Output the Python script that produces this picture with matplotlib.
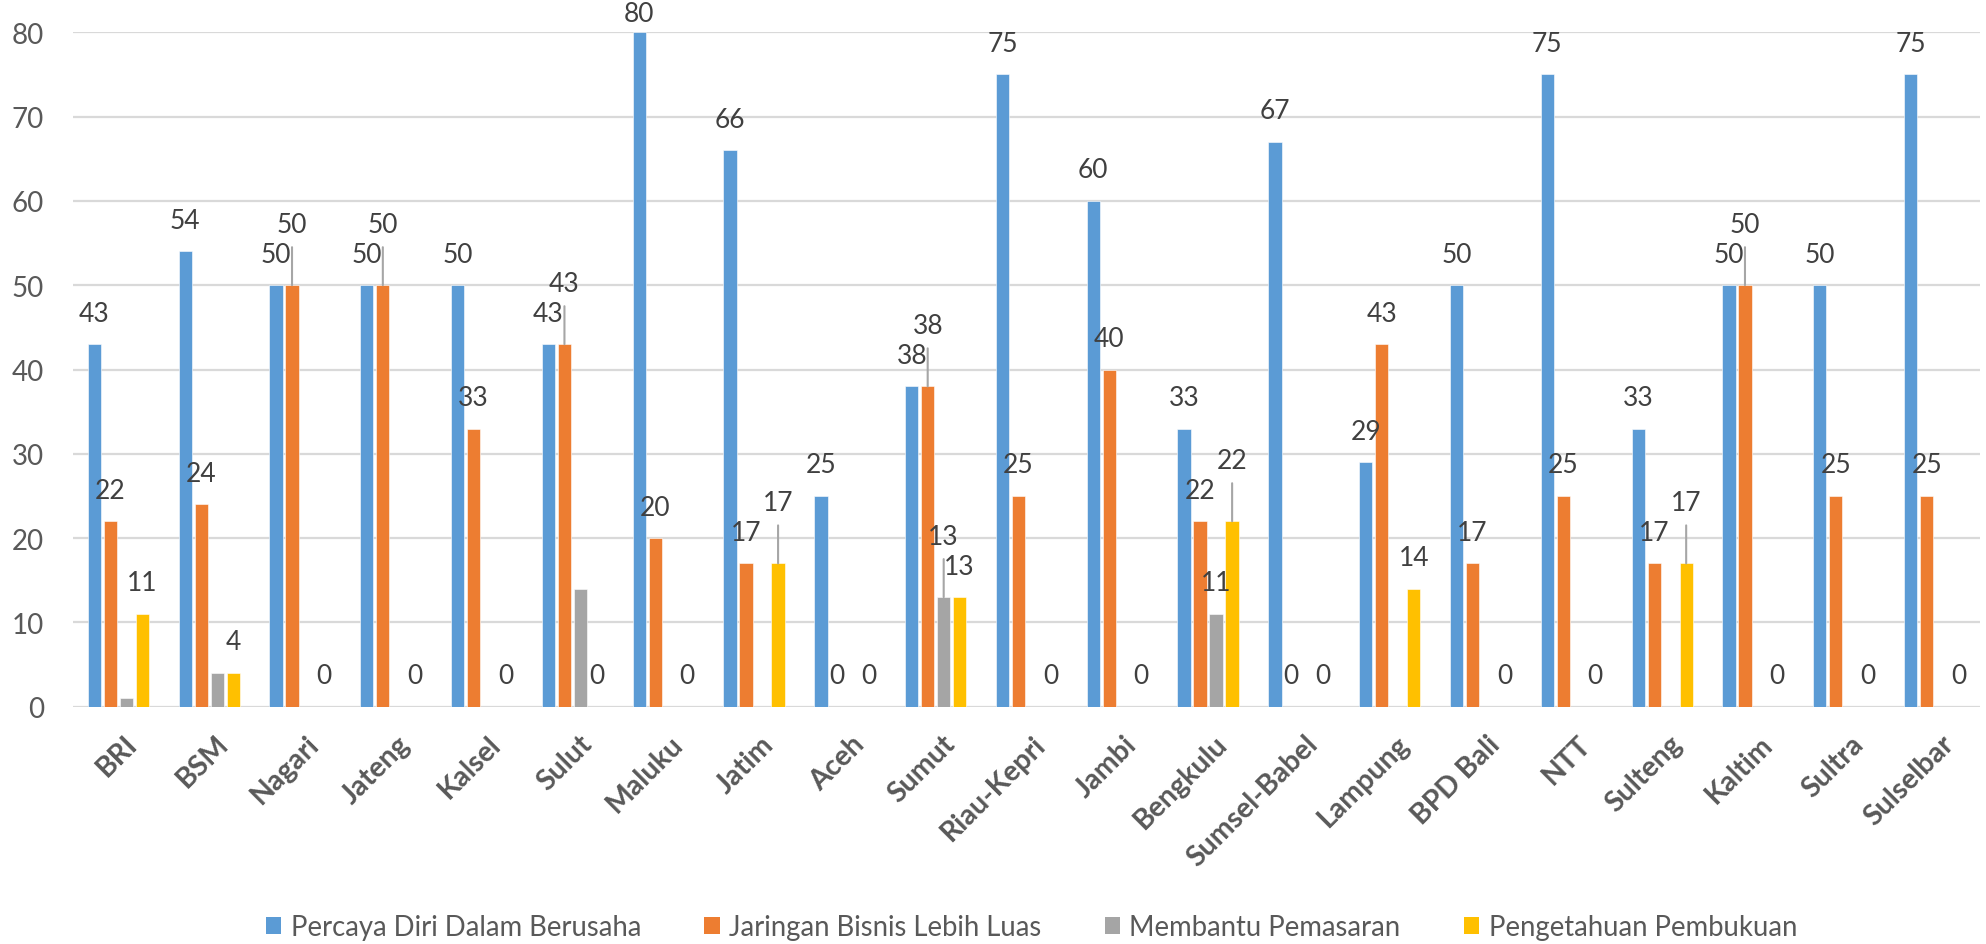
import matplotlib
matplotlib.use("Agg")
import matplotlib.pyplot as plt
import matplotlib.transforms as mtransforms
from matplotlib.patches import Patch
import numpy as np

# Data
categories = ["BRI", "BSM", "Nagari", "Jateng", "Kalsel", "Sulut", "Maluku", "Jatim",
              "Aceh", "Sumut", "Riau-Kepri", "Jambi", "Bengkulu", "Sumsel-Babel",
              "Lampung", "BPD Bali", "NTT", "Sulteng", "Kaltim", "Sultra", "Sulselbar"]
series_names = ["Percaya Diri Dalam Berusaha", "Jaringan Bisnis Lebih Luas",
                "Membantu Pemasaran", "Pengetahuan Pembukuan"]
percaya = [43, 54, 50, 50, 50, 43, 80, 66, 25, 38, 75, 60, 33, 67, 29, 50, 75, 33, 50, 50, 75]
jaringan = [22, 24, 50, 50, 33, 43, 20, 17, 0, 38, 25, 40, 22, 0, 43, 17, 25, 17, 50, 25, 25]
pemasaran = [1, 4, 0, 0, 0, 14, 0, 0, 0, 13, 0, 0, 11, 0, 0, 0, 0, 0, 0, 0, 0]
pembukuan = [11, 4, 0, 0, 0, 0, 0, 17, 0, 13, 0, 0, 22, 0, 14, 0, 0, 17, 0, 0, 0]

# which bars carry a label (series index -> categories); None = all
labelled = {0: None, 1: None, 2: ["Sumut", "Bengkulu"], 3: None}
# labels that were dragged up, with a leader line
moved = [("Nagari", 1), ("Jateng", 1), ("Sulut", 1), ("Jatim", 3), ("Sumut", 1),
         ("Sumut", 2), ("Bengkulu", 3), ("Sulteng", 3), ("Kaltim", 1)]

colors = ["#5B9BD5", "#ED7D31", "#A5A5A5", "#FFC000"]
fam = ["Lato", "DejaVu Sans"]
plt.rcParams["font.family"] = fam

W, H, DPI = 1986, 945, 100
fig = plt.figure(figsize=(W / DPI, H / DPI), dpi=DPI)
ax = fig.add_axes([73 / W, 1 - 707.7 / H, (1980 - 73) / W, (707.7 - 33.3) / H])

x = np.arange(len(categories))
slot = 16 / 90.8
bw = 13.3 / 90.8
all_series = [percaya, jaringan, pemasaran, pembukuan]

ax.set_xlim(-0.5, len(categories) - 0.5)
ax.set_ylim(0, 80)
ax.set_yticks(range(0, 81, 10))
ax.grid(axis="y", color="#D9D9D9", lw=1.6)
ax.set_axisbelow(True)
for s in ax.spines.values():
    s.set_visible(False)
ax.axhline(0, color="#D9D9D9", lw=1.8, zorder=1)

px = 72 / DPI
for i, vals in enumerate(all_series):
    xs = x + (i - 1.5) * slot
    ax.bar(xs, vals, width=bw, color=colors[i], edgecolor="white", linewidth=0.4,
           zorder=2, label=series_names[i])
    for j, v in enumerate(vals):
        if labelled[i] is not None and categories[j] not in labelled[i]:
            continue
        if (categories[j], i) in moved:
            off = 61
            ax.annotate("", xy=(xs[j], v), xytext=(0, 38 * px), textcoords="offset points",
                        arrowprops=dict(arrowstyle="-", color="#A6A6A6", lw=1.5,
                                        shrinkA=0, shrinkB=0), zorder=3)
        else:
            off = 31
        # keep the label inside the figure
        ytop = ax.transData.transform((0, v))[1]
        off = min(off, H - ytop - 15)
        ax.annotate(str(v), xy=(xs[j], v), xytext=(0, off * px), textcoords="offset points",
                    ha="center", va="center", fontsize=19, color="#404040",
                    annotation_clip=False, zorder=4)

ax.tick_params(axis="both", length=0)
ax.tick_params(axis="y", pad=21, labelsize=20, labelcolor="#595959")
ax.set_xticks(x)
ax.set_xticklabels(categories, rotation=45, ha="right", va="top", rotation_mode="anchor",
                   fontweight="bold", fontsize=20.5, color="#595959")
ax.tick_params(axis="x", pad=17)
shift = mtransforms.ScaledTranslation(6 / DPI, 0, fig.dpi_scale_trans)
for lab in ax.get_xticklabels():
    lab.set_transform(lab.get_transform() + shift)

handles = [Patch(facecolor=c, edgecolor="none") for c in colors]
fig.legend(handles, series_names, loc="center", bbox_to_anchor=(1031.5 / W, 1 - 928 / H),
           ncol=4, frameon=False, fontsize=19.8, labelcolor="#595959",
           handlelength=0.55, handleheight=0.55, handletextpad=0.35, columnspacing=2.3)

plt.savefig("out.png", dpi=DPI)
